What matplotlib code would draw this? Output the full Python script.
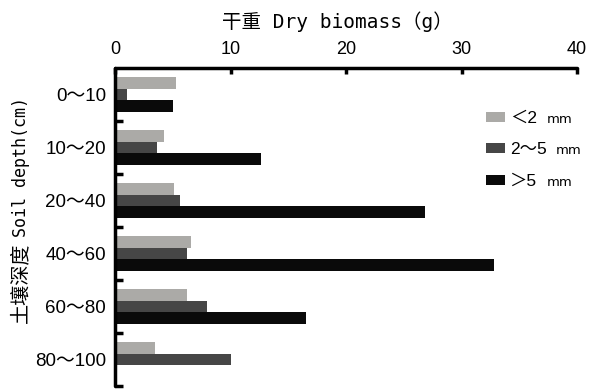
import numpy as np
import matplotlib
matplotlib.use("Agg")
import matplotlib.pyplot as plt
from matplotlib.ticker import FixedLocator
from matplotlib.transforms import IdentityTransform

depths = ["0～10", "10～20", "20～40", "40～60", "60～80", "80～100"]
size_classes = ["＜2", "2～5", "＞5"]
fine = [5.3, 4.2, 5.1, 6.6, 6.2, 3.5]
medium = [1.0, 3.6, 5.6, 6.2, 8.0, 10.0]
coarse = [5.0, 12.6, 26.8, 32.8, 16.5, 0.0]
colors = ["#abaaa7", "#464646", "#0a0a0a"]

num_font = ["Liberation Sans", "Noto Sans CJK SC"]
mono_font = ["DejaVu Sans Mono", "Noto Sans CJK SC"]

W, H = 606, 392
fig = plt.figure(figsize=(W / 100, H / 100), dpi=100)
ax = fig.add_axes([115 / W, 1 - 386 / H, 462 / W, 318 / H])

y = np.arange(len(depths))
h = 0.22
for k, (vals, c, lab) in enumerate(zip([fine, medium, coarse], colors, size_classes)):
    ax.barh(y + (k - 1) * h, vals, height=h, color=c, label=lab, linewidth=0)

ax.set_xlim(0, 40)
ax.set_ylim(len(depths) - 0.5, -0.5)

# x axis on top
ax.xaxis.tick_top()
ax.set_xticks([0, 10, 20, 30, 40])
ax.tick_params(axis="x", direction="in", length=4, width=2.5, pad=7, labelsize=13)
for t in ax.get_xticklabels():
    t.set_fontfamily(num_font)
fig.text(337 / W, 1 - 22 / H, "干重 Dry biomass（g）", fontsize=14,
         family=mono_font, ha="center", va="center")

# category labels at centres, short tick marks between groups
ax.set_yticks(y)
ax.set_yticklabels(depths, fontsize=13.5, family=num_font)
ax.tick_params(axis="y", which="major", length=0, pad=6.5)
ax.yaxis.set_minor_locator(FixedLocator(np.arange(0.5, len(depths), 1.0)))
ax.tick_params(axis="y", which="minor", direction="in", length=6, width=2.5)

# y label in two pieces: chinese part drawn a bit larger
fig.text(21 / W, 1 - 323 / H, "土壤深度", fontsize=14.5,
         family="Noto Sans CJK SC", rotation=90, ha="center", va="bottom")
fig.text(21 / W, 1 - 247 / H, " Soil depth(cm)", fontsize=12,
         family="DejaVu Sans Mono", rotation=90, ha="center", va="bottom")

for s in ["right", "bottom"]:
    ax.spines[s].set_visible(False)
for s in ["left", "top"]:
    ax.spines[s].set_linewidth(2.5)
    ax.spines[s].set_capstyle("round")

leg = ax.legend(loc="upper left", bbox_to_anchor=(486 / W, 1 - 111 / H),
                bbox_transform=fig.transFigure, frameon=False,
                handlelength=1.1, handleheight=0.5, handletextpad=0.3,
                labelspacing=0.95, borderaxespad=0, borderpad=0,
                prop={"family": num_font, "size": 12.5})

# unit written smaller after each legend entry
fig.canvas.draw()
for t in leg.get_texts():
    bb = t.get_window_extent()
    fig.text(bb.x1 + 9, (bb.y0 + bb.y1) / 2 - 1, "mm", fontsize=9.5,
             family="Liberation Sans Narrow", transform=IdentityTransform(),
             ha="left", va="center")

fig.savefig("out.png", dpi=100)
